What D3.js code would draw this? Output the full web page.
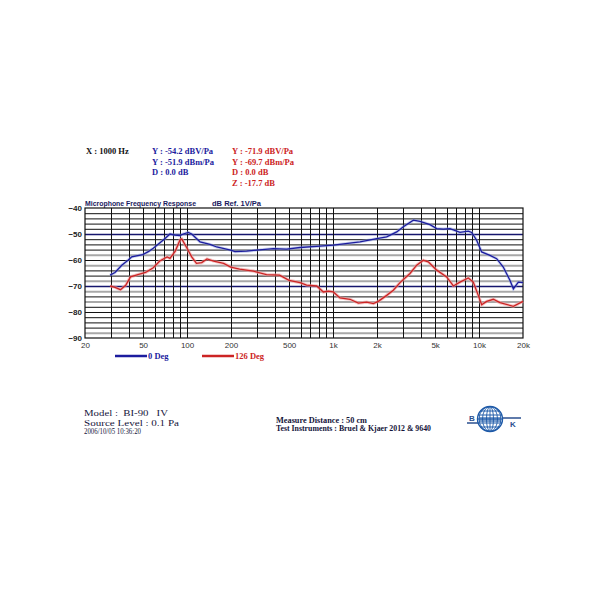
<!DOCTYPE html>
<html>
<head>
<meta charset="utf-8">
<script src="https://cdn.jsdelivr.net/npm/d3@7/dist/d3.min.js"></script>
<style>
html,body{margin:0;padding:0;background:#fff;}
svg{display:block;}
</style>
</head>
<body>
<svg id="chart" width="600" height="600"></svg>
<script>
// ---- data ----
const freq0 = [29.7,32.1,35.7,39.6,41.8,49.7,54.3,58.7,68.8,76.4,82.6,89.5,94.2,102,107.6,122.7,143.6,159.6,199,213,256,300,390,481,594,814,1004,1530,1990,2330,2730,3030,3550,3940,4610,5130,5690,6320,7400,8440,8900,9630,10420,11880,13200,14650,16300,17180,18580,20000];
const deg0 = [-65.8,-64.8,-62.0,-60.0,-58.8,-57.9,-56.8,-55.5,-52.3,-50.0,-50.4,-50.6,-50.0,-49.4,-50.0,-53.0,-54.0,-55.0,-56.2,-56.8,-56.6,-56.2,-55.6,-55.8,-55.2,-54.7,-54.3,-53.0,-51.8,-51.1,-49.2,-47.2,-44.7,-45.1,-46.4,-47.9,-48.1,-47.9,-49.4,-48.9,-49.4,-52.4,-56.9,-58.2,-59.5,-62.7,-67.9,-71.1,-68.5,-68.7];
const freq126 = [29.7,32.1,35,38,41,46,52,58.7,65,73,76.4,83,89.5,92,100,107.6,116,126,137,152,178,199,229,285,350,430,500,594,659,773,858,929,1004,1116,1307,1490,1700,1888,2041,2330,2587,2875,3365,3740,4150,4490,5130,6000,6670,7400,8440,9130,9880,10420,11270,12530,13910,17180,20000];
const deg126 = [-70.0,-70.5,-71.4,-69.7,-66.5,-65.6,-64.8,-63.0,-60.4,-58.8,-59.4,-56.6,-52.3,-51.9,-55.5,-58.8,-61.3,-61.0,-59.6,-60.4,-61.3,-62.7,-63.5,-64.3,-65.6,-65.8,-67.8,-68.7,-69.7,-70.0,-72.3,-72.0,-72.3,-74.6,-75.1,-76.6,-76.2,-76.8,-75.9,-73.6,-71.6,-68.7,-65.2,-62.0,-60.1,-60.7,-63.9,-66.5,-70.0,-68.5,-66.9,-68.5,-73.6,-77.2,-75.9,-75.1,-76.4,-77.8,-75.9];
const xTickValues = [20,50,100,200,500,1000,2000,5000,10000,20000];
const xTickLabels = ["20","50","100","200","500","1k","2k","5k","10k","20k"];
const yTickValues = [-40,-50,-60,-70,-80,-90];
const grayGrid = [-58,-62,-68,-72,-76,-88];
const boldGrid = [-50,-70];
const seriesNames = ["0 Deg","126 Deg"];
const readoutX = ["X : 1000 Hz"];
const readout0 = ["Y : -54.2 dBV/Pa","Y : -51.9 dBm/Pa","D : 0.0 dB"];
const readout126 = ["Y : -71.9 dBV/Pa","Y : -69.7 dBm/Pa","D : 0.0 dB","Z : -17.7 dB"];
const titleTexts = ["Microphone Frequency Response","dB Ref. 1V/Pa"];
const infoLeft = ["Model :  BI-90   IV","Source Level : 0.1 Pa","2006/10/05 10:36:20"];
const infoRight = ["Measure Distance : 50 cm","Test Instruments : Bruel & Kjaer 2012 & 9640"];

// ---- drawing ----
const svg = d3.select("#chart");
const BLUE = "#1c1c9e", RED = "#cc2424";
const x = d3.scaleLog().domain([20,20000]).range([85,523]);
const y = d3.scaleLinear().domain([-90,-40]).range([338,208]);
const serifB = "'Liberation Serif','Times New Roman',serif";
const sans = "'Liberation Sans',Arial,sans-serif";

// readouts
svg.append("text").attr("x",86).attr("y",154).attr("font-family",serifB).attr("font-weight","bold")
  .attr("font-size",8.5).attr("fill","#111").text(readoutX[0]);
svg.selectAll("text.r0").data(readout0).join("text").attr("class","r0")
  .attr("x",152).attr("y",(d,i)=>154+i*10.5).attr("font-family",serifB).attr("font-weight","bold")
  .attr("font-size",8.5).attr("fill",BLUE).text(d=>d);
svg.selectAll("text.r1").data(readout126).join("text").attr("class","r1")
  .attr("x",232).attr("y",(d,i)=>154+i*10.5).attr("font-family",serifB).attr("font-weight","bold")
  .attr("font-size",8.5).attr("fill",RED).text(d=>d);

// title
const titleX = [85,212], titleW = [111,49];
titleTexts.forEach((t,i)=>{
  svg.append("text").attr("x",titleX[i]).attr("y",206).attr("font-family",sans)
    .attr("font-weight","bold").attr("font-size",7.6).attr("fill","#1a1a60")
    .attr("textLength",titleW[i]).attr("lengthAdjust","spacingAndGlyphs").text(t);
});

// grid
const g = svg.append("g");
const hLines = d3.range(-88,-40,2);
g.selectAll("line.h").data(hLines).join("line").attr("class","h")
  .attr("x1",x(20)).attr("x2",x(20000)).attr("y1",d=>y(d)+0.5).attr("y2",d=>y(d)+0.5)
  .attr("stroke",d=>boldGrid.includes(d)?"#16166e":(grayGrid.includes(d)?"#a8a8a8":"#111"))
  .attr("stroke-width",d=>boldGrid.includes(d)?1.6:(grayGrid.includes(d)?2:1));
const vLines = x.ticks().filter(d=>d>20 && d<20000);
g.selectAll("line.v").data(vLines).join("line").attr("class","v")
  .attr("x1",d=>Math.round(x(d))+0.5).attr("x2",d=>Math.round(x(d))+0.5).attr("y1",y(-40)).attr("y2",y(-90))
  .attr("stroke","#111").attr("stroke-width",1);
g.append("rect").attr("x",x(20)).attr("y",y(-40)).attr("width",x(20000)-x(20)).attr("height",y(-90)-y(-40))
  .attr("fill","none").attr("stroke","#111").attr("stroke-width",1.2);

// axes
const xAxis = svg.append("g").attr("transform",`translate(0,${y(-90)+1})`)
  .call(d3.axisBottom(x).tickValues(xTickValues).tickFormat((d,i)=>xTickLabels[i]).tickSize(0).tickPadding(3));
xAxis.select(".domain").remove();
xAxis.selectAll("text").attr("font-family",sans).attr("font-size",8).attr("fill","#333");
const yAxis = svg.append("g").attr("transform",`translate(${x(20)-1},0)`)
  .call(d3.axisLeft(y).tickValues(yTickValues).tickFormat(d3.format("d")).tickSize(0).tickPadding(2));
yAxis.select(".domain").remove();
yAxis.selectAll("text").attr("font-family",sans).attr("font-weight","bold").attr("font-size",8).attr("fill","#222");

// curves
const line = d3.line().x(d=>x(d[0])).y(d=>y(d[1]));
const s0 = freq0.map((f,i)=>[f,deg0[i]]);
const s1 = freq126.map((f,i)=>[f,deg126[i]]);
svg.append("path").attr("d",line(s0)).attr("fill","none").attr("stroke","#8fa0e0").attr("stroke-width",3).attr("opacity",0.45);
svg.append("path").attr("d",line(s1)).attr("fill","none").attr("stroke","#f0a0a0").attr("stroke-width",3.2).attr("opacity",0.6);
svg.append("path").attr("d",line(s0)).attr("fill","none").attr("stroke",BLUE).attr("stroke-width",1.3);
svg.append("path").attr("d",line(s1)).attr("fill","none").attr("stroke",RED).attr("stroke-width",1.3);

// legend
const legX = [115,202], legColors=[BLUE,RED];
seriesNames.forEach((n,i)=>{
  svg.append("line").attr("x1",legX[i]).attr("x2",legX[i]+32).attr("y1",356).attr("y2",356)
    .attr("stroke",legColors[i]).attr("stroke-width",2.5);
  svg.append("text").attr("x",legX[i]+33).attr("y",359).attr("font-family",serifB).attr("font-weight","bold")
    .attr("font-size",8.5).attr("fill",legColors[i]).text(n);
});

// bottom info
const infoY = [416,425.5,433.5], infoSize=[9,9,7.2], infoW=[84,95,57];
infoLeft.forEach((t,i)=>{
  svg.append("text").attr("x",84).attr("y",infoY[i]).attr("font-family",serifB).attr("font-size",infoSize[i])
    .attr("fill","#14143a").attr("textLength",infoW[i]).attr("lengthAdjust","spacingAndGlyphs")
    .style("white-space","pre").text(t);
});
svg.selectAll("text.ir").data(infoRight).join("text").attr("class","ir")
  .attr("x",276).attr("y",(d,i)=>423+i*7.5).attr("font-family",serifB).attr("font-weight","bold")
  .attr("font-size",7.2).attr("fill","#14143a")
  .attr("textLength",(d,i)=>[91,155][i]).attr("lengthAdjust","spacingAndGlyphs").text(d=>d);

// logo
const LB = "#1e5aa8";
const lg = svg.append("g");
const cx=490, cy=419, r=12.5;
lg.append("line").attr("x1",467).attr("x2",484).attr("y1",423).attr("y2",423).attr("stroke","#2a4f8f").attr("stroke-width",1.5);
lg.append("line").attr("x1",496).attr("x2",521).attr("y1",418).attr("y2",418).attr("stroke","#2a4f8f").attr("stroke-width",1.5);
lg.append("circle").attr("cx",cx).attr("cy",cy).attr("r",r).attr("fill","#fff").attr("stroke",LB).attr("stroke-width",1.4);
[-8,-4,0,4,8].forEach(o=>{
  const hw=Math.sqrt(r*r-o*o);
  lg.append("line").attr("x1",cx-hw).attr("x2",cx+hw).attr("y1",cy+o).attr("y2",cy+o).attr("stroke",LB).attr("stroke-width",1);
});
[3.5,7.5,11].forEach(rx=>{
  lg.append("ellipse").attr("cx",cx).attr("cy",cy).attr("rx",rx).attr("ry",r).attr("fill","none").attr("stroke",LB).attr("stroke-width",0.9);
});
lg.append("line").attr("x1",cx).attr("x2",cx).attr("y1",cy-r).attr("y2",cy+r).attr("stroke",LB).attr("stroke-width",0.9);
lg.append("rect").attr("x",cx-11).attr("y",cy-2).attr("width",22).attr("height",5).attr("fill",LB).attr("opacity",0.6);
lg.append("text").attr("x",469).attr("y",421).attr("font-family",sans).attr("font-weight","bold").attr("font-size",8).attr("fill","#2a4f8f").text("B");
lg.append("text").attr("x",510).attr("y",427).attr("font-family",sans).attr("font-weight","bold").attr("font-size",8).attr("fill","#2a4f8f").text("K");
</script>
</body>
</html>
